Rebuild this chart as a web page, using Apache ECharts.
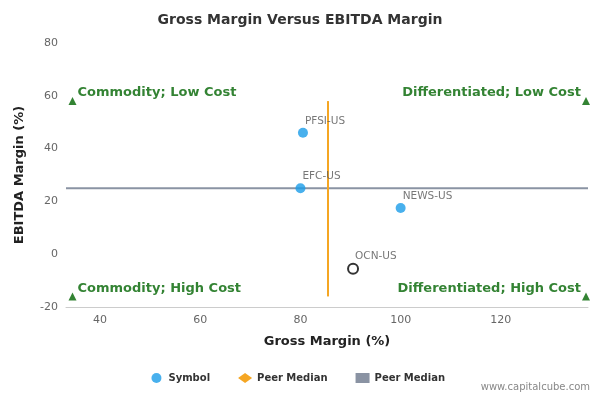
<!DOCTYPE html>
<html>
<head>
<meta charset="utf-8">
<script src="https://cdn.jsdelivr.net/npm/echarts@6/dist/echarts.min.js"></script>
<style>html,body{margin:0;background:#fff}#c{width:600px;height:400px}</style>
</head>
<body>
<div id="c"></div>
<script>
// --- Data ---
const symbols = ['PFSI-US', 'EFC-US', 'NEWS-US'];
const symbolPoints = [[80.5, 46], [80, 25], [100, 17.5]];
const focusName = 'OCN-US';
const focusPoint = [90.5, -5.5];
const peerMedianX = [[85.5, -16], [85.5, 58]];
const peerMedianY = [[33.2, 25], [137.4, 25]];
const corners = [[34.5, 58], [137, 58], [34.5, -16], [137, -16]];
const cornerLabels = ['Commodity; Low Cost', 'Differentiated; Low Cost', 'Commodity; High Cost', 'Differentiated; High Cost'];

const chart = echarts.init(document.getElementById('c'));
const font = 'DejaVu Sans, sans-serif';
const green = '#006400';

const pointLabel = {
    show: true, position: 'top', align: 'left', offset: [2, 4],
    formatter: p => p.name, color: '#555', fontSize: 10.5,
};

chart.setOption({
    animation: false,
    textStyle: { fontFamily: font },
    title: {
        text: 'Gross Margin Versus EBITDA Margin', left: 'center', top: 8,
        textStyle: { fontSize: 14, fontWeight: 'bold', color: '#333', fontFamily: font },
    },
    grid: { left: 66, right: 12, top: 43, bottom: 93 },
    xAxis: {
        type: 'value', min: 33.2, max: 137.4, interval: 20,
        name: 'Gross Margin (%)', nameLocation: 'middle', nameGap: 28,
        nameTextStyle: { fontSize: 13, fontWeight: 'bold', color: '#222' },
        axisLine: { onZero: false, lineStyle: { color: '#ccc' } },
        axisTick: { show: false }, splitLine: { show: false },
        axisLabel: { color: '#666', fontSize: 11, customValues: [40, 60, 80, 100, 120] },
    },
    yAxis: {
        type: 'value', min: -20, max: 80, interval: 20,
        name: 'EBITDA Margin (%)', nameLocation: 'middle', nameGap: 40,
        nameTextStyle: { fontSize: 13, fontWeight: 'bold', color: '#222' },
        axisLine: { show: false }, axisTick: { show: false }, splitLine: { show: false },
        axisLabel: { color: '#666', fontSize: 11 },
    },
    legend: {
        bottom: 12, left: 'center', itemGap: 28, itemWidth: 14, itemHeight: 10,
        textStyle: { fontSize: 10, fontWeight: 'bold', color: '#333' },
        data: [
            { name: 'Symbol', icon: 'circle', itemStyle: { color: '#1a9ce8' } },
            { name: 'Peer Median', icon: 'diamond', itemStyle: { color: '#f5a623' } },
            { name: 'Peer Median ', icon: 'rect', itemStyle: { color: '#8a93a3' } },
        ],
    },
    graphic: [{
        type: 'text', right: 10, bottom: 8,
        style: { text: 'www.capitalcube.com', fontSize: 10, fill: '#888', fontFamily: font },
    }],
    series: [
        {
            name: 'Peer Median ', type: 'line', data: peerMedianY, showSymbol: false,
            lineStyle: { color: '#8a93a3', width: 2 }, itemStyle: { color: '#8a93a3' }, z: 1,
        },
        {
            name: 'Peer Median', type: 'line', data: peerMedianX, showSymbol: false,
            lineStyle: { color: '#f5a623', width: 2 }, itemStyle: { color: '#f5a623' }, z: 1,
        },
        {
            name: 'Symbol', type: 'scatter', symbolSize: 10, z: 3,
            data: symbolPoints.map((p, i) => ({ value: p, name: symbols[i] })),
            itemStyle: { color: '#1a9ce8' },
            label: pointLabel,
        },
        {
            name: 'Focus', type: 'scatter', symbolSize: 10, z: 4,
            data: [{ value: focusPoint, name: focusName }],
            itemStyle: { color: '#fff', borderColor: '#000', borderWidth: 2 },
            label: pointLabel,
        },
        {
            name: 'Corners', type: 'scatter', symbol: 'triangle', symbolSize: 8, z: 2,
            data: corners.map((p, i) => ({
                value: p, name: cornerLabels[i],
                label: { position: i % 2 ? 'left' : 'right', offset: i % 2 ? [4, -8] : [-4, -8] },
            })),
            itemStyle: { color: green },
            label: { show: true, formatter: p => p.name, color: green, fontSize: 13, fontWeight: 'bold' },
        },
    ],
});
</script>
</body>
</html>
